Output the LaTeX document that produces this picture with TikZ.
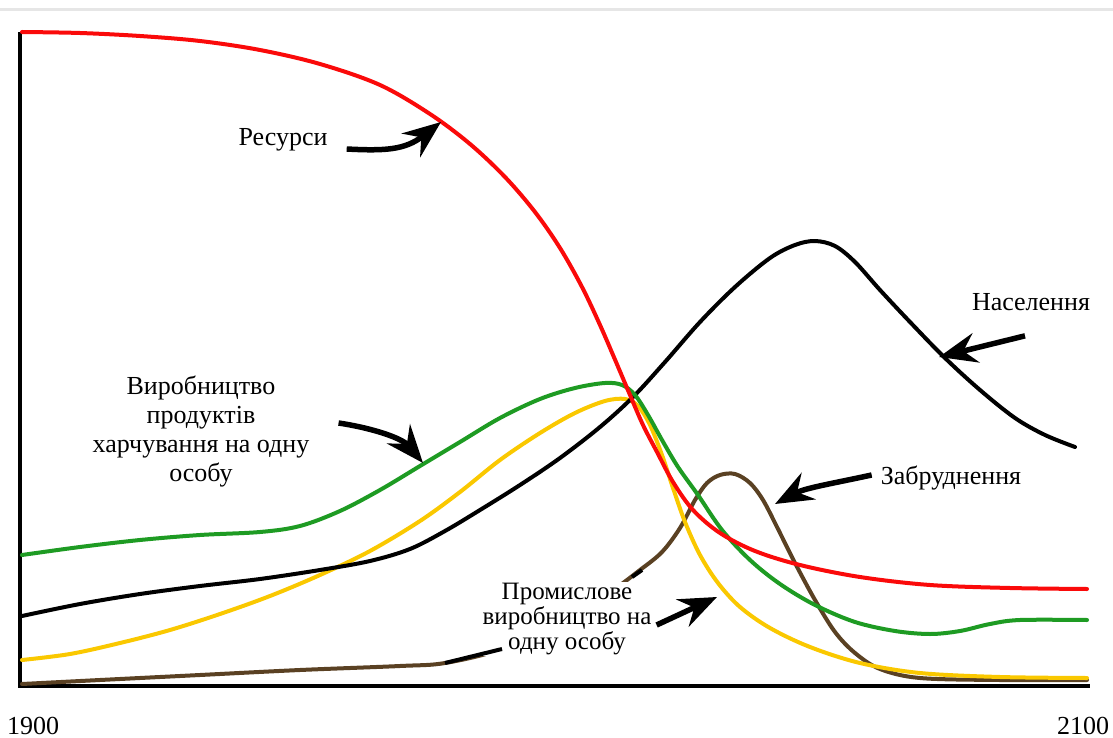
\documentclass[tikz,border=0pt]{standalone}
\usepackage{fontspec}
\setmainfont{Liberation Serif}
\usetikzlibrary{arrows.meta}
\definecolor{cred}{RGB}{250,10,10}
\definecolor{cgreen}{RGB}{30,155,35}
\definecolor{cyellow}{RGB}{250,200,0}
\definecolor{cbrown}{RGB}{90,65,35}
\definecolor{cgray}{RGB}{230,230,230}
\tikzset{
  curve/.style={line width=4pt, line cap=round, line join=round},
  lbl/.style={font=\fontsize{26}{29}\selectfont, inner sep=1pt, align=center, text=black},
  arr/.style={line width=5.5pt, -{Stealth[length=38pt,width=30pt,inset=13pt]}, black},
}
\begin{document}
\begin{tikzpicture}[x=1pt,y=-1pt]
\useasboundingbox (0,0) rectangle (1113,738);
% top gray rule
\draw[cgray, line width=3pt] (0,10) -- (1113,10);
% axes
\draw[black, line width=4pt] (20,32) -- (20,687);
\draw[black, line width=4pt] (18,686) -- (1090,686);

% pollution (brown)
\draw[curve, cbrown] plot[smooth, tension=0.55] coordinates {
 (22,684) (100,680) (200,675) (300,670) (400,666) (445,663) (502,649) (560,622)
 (610,592) (640,570) (662,552) (680,528) (695,500) (707,483) (720,475) (735,474)
 (750,483) (763,500) (777,527) (795,563) (815,600) (835,632) (855,653) (880,669)
 (920,678) (1000,680) (1087,680)};
% industrial output (yellow)
\draw[curve, cyellow] plot[smooth, tension=0.55] coordinates {
 (22,660) (70,654) (120,643) (170,630) (220,614) (270,596) (320,575) (370,551)
 (420,521) (460,492) (500,460) (540,433) (575,413) (605,401) (625,399) (638,406)
 (650,425) (662,455) (673,488) (685,522) (700,555) (718,583) (740,607) (770,628)
 (810,647) (860,663) (920,673) (1000,677) (1087,678)};
% population (black)
\draw[curve, black] plot[smooth, tension=0.55] coordinates {
 (22,616) (80,604) (140,594) (200,586) (260,579) (320,570) (370,561) (410,549)
 (445,531) (480,510) (520,485) (560,458) (600,427) (633,397) (665,362) (700,322)
 (735,287) (770,258) (795,245) (815,241) (835,246) (855,262) (880,290) (910,322)
 (945,358) (980,390) (1015,418) (1045,435) (1075,447)};
% food per capita (green)
\draw[curve, cgreen] plot[smooth, tension=0.55] coordinates {
 (22,555) (80,547) (140,540) (200,535) (260,532) (300,526) (340,511) (380,490)
 (420,466) (460,442) (500,418) (540,399) (575,388) (605,383) (622,385) (635,395)
 (648,415) (662,440) (678,467) (698,495) (722,530) (750,560) (780,584) (815,605)
 (855,622) (895,631) (930,634) (960,631) (990,624) (1020,620) (1087,620)};
% resources (red)
\draw[curve, cred] plot[smooth, tension=0.55] coordinates {
 (22,32) (80,33) (140,36) (200,41) (260,50) (320,64) (380,85) (430,114)
 (470,144) (505,177) (535,212) (560,248) (582,287) (600,325) (616,362) (630,395)
 (643,425) (657,452) (673,482) (693,510) (720,533) (755,551) (800,565) (860,577)
 (930,585) (1010,588) (1087,589)};

% labels
\node[lbl] (res) at (283,140) {Ресурси};
\node[lbl] (pop) at (1031,302) {Населення};
\node[lbl] (food) at (201,431) {Виробництво\\продуктів\\харчування на одну\\особу};
\node[lbl] (poll) at (951,478) {Забруднення};
\node[lbl, fill=white, inner sep=1pt, font=\fontsize{25}{25}\selectfont] (ind) at (567,619) {Промислове\\виробництво на\\одну особу};
\node[lbl] (y1) at (33,726) {1900};
\node[lbl] (y2) at (1083,726) {2100};

% black stubs where the brown curve meets the label
\draw[black, line width=4pt] (445,663) -- (502,649);
\draw[black, line width=4pt] (632,577) -- (642,570);

% arrow targets
\coordinate (resT) at (441,122);
\coordinate (popT) at (939,357);
\coordinate (foodT) at (423,463);
\coordinate (pollT) at (775,504);
\coordinate (indT) at (717,597);

% arrows
\draw[arr] ([xshift=18pt,yshift=-9pt]res.east) .. controls (385,151) and (405,150) .. (resT);
\draw[arr] ([xshift=-6pt,yshift=-24pt]pop.south) -- (popT);
\draw[arr] ([xshift=28pt,yshift=8pt]food.east) .. controls (372,428) and (402,438) .. (foodT);
\draw[arr] ([xshift=-8pt,yshift=3pt]poll.west) .. controls (830,484) and (805,488) .. (pollT);
\draw[arr] ([xshift=4pt,yshift=-6pt]ind.east) -- (indT);
\end{tikzpicture}
\end{document}
